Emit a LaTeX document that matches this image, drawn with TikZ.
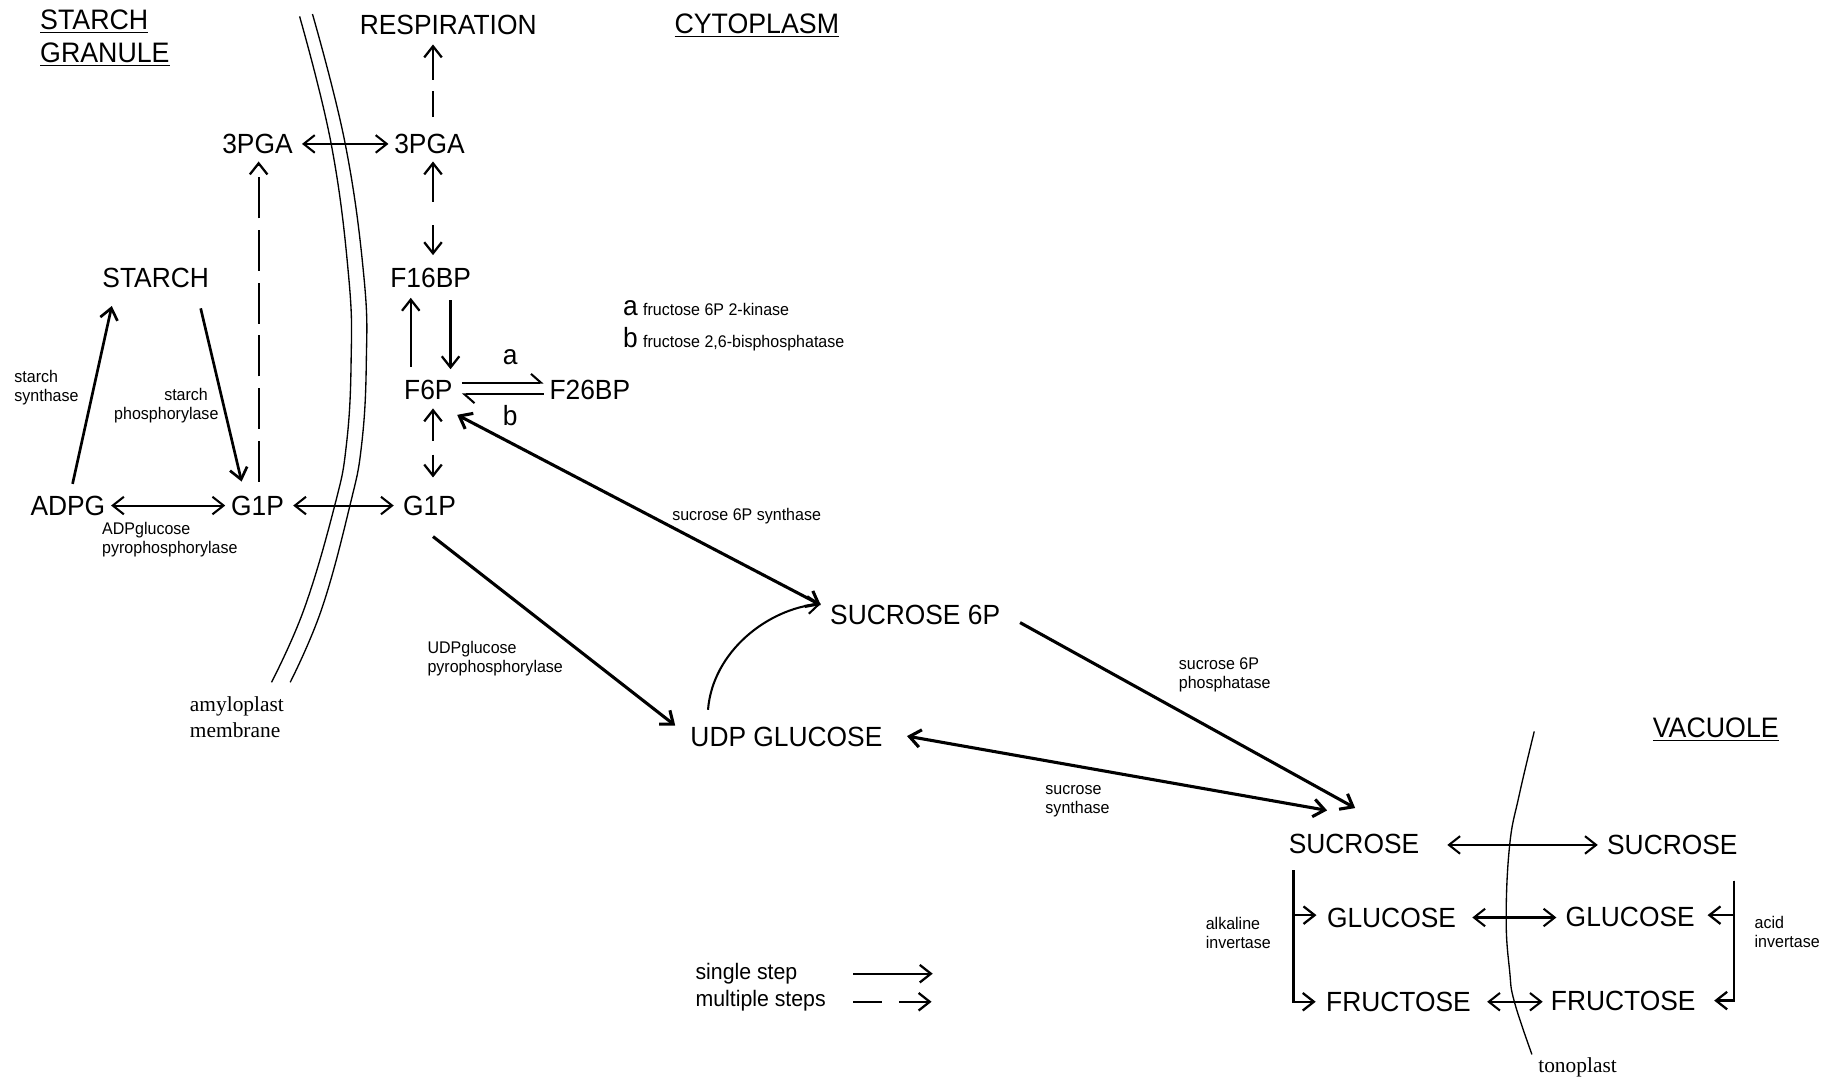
\documentclass[tikz,border=0pt]{standalone}
\usepackage{fontspec}
\setmainfont{Liberation Sans}[FakeStretch=0.95]
\newfontfamily\serifface{Liberation Serif}
\usetikzlibrary{arrows.meta,calc}
\tikzset{
  met/.style={inner sep=0pt, outer sep=0pt, font=\fontsize{13.5}{16}\selectfont, text height=9.67pt, text depth=0pt},
  letter/.style={inner sep=0pt, font=\fontsize{13.5}{16}\selectfont},
  enz/.style={inner sep=0pt, font=\fontsize{8.2}{9.2}\selectfont, align=left},
  hdr/.style={inner sep=0pt, font=\fontsize{13.7}{16}\selectfont, anchor=base west},
  leg/.style={inner sep=0pt, font=\fontsize{10.9}{13}\selectfont, anchor=base west},
  memtxt/.style={inner sep=0pt, font=\serifface\fontsize{10.4}{12.5}\selectfont, align=left},
  mem/.style={line width=0.65pt},
  >={Straight Barb[length=0.19cm,width=0.3cm]},
  rx/.style={->, line width=1.1pt},
  dx/.style={<->, line width=1pt},
  thick2/.style={line width=1.5pt},
  hp/.style={-{Straight Barb[harpoon,length=0.17cm,width=0.3cm]}, line width=1pt},
}
\begin{document}
\begin{tikzpicture}[x=0.02cm, y=-0.02cm]
\useasboundingbox (0,0) rectangle (1568,925);

% membranes
\draw[mem] plot[smooth, tension=0.7] coordinates {(256,14) (283,123) (298,237) (300,310) (296,380) (286,432) (260,520) (232,583)};
\draw[mem] plot[smooth, tension=0.7] coordinates {(267,12) (295,123) (311,237) (313,310) (309,380) (299,432) (275,520) (248,583)};
\draw[mem] plot[smooth, tension=0.7] coordinates {(1311,625) (1298,680) (1290,722) (1287,785) (1290,830) (1294,856) (1309,901)};

% headers
\node[hdr] (h1) at (34,25) {\underline{STARCH}};
\node[hdr] (h2) at (34,53) {\underline{GRANULE}};
\node[hdr] (h3) at (576,28.5) {\underline{CYTOPLASM}};
\node[hdr] (h4) at (1412,630) {\underline{VACUOLE}};

% metabolites
\node[met] (RESP) at (383,21) {RESPIRATION};
\node[met] (PGAl) at (220,123) {3PGA};
\node[met] (PGAr) at (367,123) {3PGA};
\node[met] (STARCH) at (133,237) {STARCH};
\node[met] (F16BP) at (368,237) {F16BP};
\node[met] (F6P) at (366,333) {F6P};
\node[met] (F26BP) at (504,333) {F26BP};
\node[met] (ADPG) at (58,432) {ADPG};
\node[met] (G1Pl) at (220,432) {G1P};
\node[met] (G1Pr) at (367,432) {G1P};
\node[met] (S6P) at (782,525) {SUCROSE 6P};
\node[met] (UDPG) at (672,629) {UDP GLUCOSE};
\node[met] (SUCl) at (1157,721) {SUCROSE};
\node[met] (SUCr) at (1429,722) {SUCROSE};
\node[met] (GLUl) at (1189,784) {GLUCOSE};
\node[met] (GLUr) at (1393,783) {GLUCOSE};
\node[met] (FRUl) at (1195,856) {FRUCTOSE};
\node[met] (FRUr) at (1387,855) {FRUCTOSE};

% small letters at harpoons
\node[letter] (la) at (436,305) {a};
\node[letter] (lb) at (436,355) {b};

% key for a and b
\node[inner sep=0pt, anchor=base west] (ka) at (532,270) {{\fontsize{13.5}{16}\selectfont a} {\fontsize{8.2}{9}\selectfont fructose 6P 2-kinase}};
\node[inner sep=0pt, anchor=base west] (kb) at (532,297) {{\fontsize{13.5}{16}\selectfont b} {\fontsize{8.2}{9}\selectfont fructose 2,6-bisphosphatase}};

% enzyme labels
\node[enz, anchor=west] (ess) at (12,331) {starch\\synthase};
\node[enz, anchor=east, align=right] (esp) at (187,347) {starch\hspace*{0.18cm}\\phosphorylase};
\node[enz, anchor=west] (eadp) at (87,461) {ADPglucose\\pyrophosphorylase};
\node[enz, anchor=west] (eudp) at (365,563) {UDPglucose\\pyrophosphorylase};
\node[enz] (es6s) at (638,441) {sucrose 6P synthase};
\node[enz, anchor=west] (es6p) at (1007,577) {sucrose 6P\\phosphatase};
\node[enz, anchor=west] (essy) at (893,685) {sucrose\\synthase};
\node[enz, anchor=west] (eai) at (1030,797) {alkaline\\invertase};
\node[enz, anchor=west] (eac) at (1499,796) {acid\\invertase};

% membrane labels
\node[memtxt, anchor=west] (amy) at (162,613) {amyloplast\\membrane};
\node[memtxt] (ton) at (1348,912) {tonoplast};

% connectors
\draw[rx, dash pattern=on 0.44cm off 0.2cm on 2cm] ($(PGAr.north)+(3,-14.5)$) -- ($(RESP.south)+(-13,8.5)$);
\draw[dx] ($(PGAl.east)+(8,0)$) -- ($(PGAr.west)+(-5,0)$);
\draw[rx, dash pattern=on 0.7cm off 0.2cm] ($(G1Pl.north)+(1,-12)$) -- ($(PGAl.south)+(1,6.5)$);
\draw[dx, line width=1.1pt, dash pattern=on 0.64cm off 0.4cm on 2cm] ($(PGAr.south)+(3,6.5)$) -- ($(F16BP.north)+(2,-10.5)$);
\draw[rx] ($(F6P.north)+(-15,-11)$) -- ($(F16BP.south)+(-17,9)$);
\draw[rx] ($(F16BP.south)+(17,11)$) -- ($(F6P.north)+(19,-9)$);
\draw[dx, line width=1.1pt, dash pattern=on 0.5cm off 0.24cm on 2cm] ($(F6P.south)+(4,7.5)$) -- ($(G1Pr.north)+(3,-15.5)$);
\draw[hp] ($(F6P.east)+(8,-6)$) -- ($(F26BP.west)+(-5,-6)$);
\draw[hp] ($(F26BP.west)+(-5,4)$) -- ($(F6P.east)+(8,4)$);

\draw[rx, line width=1.3pt] ($(ADPG.north)+(4,-10)$) -- ($(STARCH.south west)+(8,16)$);
\draw[rx, line width=1.3pt] ($(STARCH.south east)+(-7,18)$) -- ($(G1Pl.north west)+(9,-12)$);
\draw[dx] ($(ADPG.east)+(5,0)$) -- ($(G1Pl.west)+(-5,0)$);
\draw[dx] ($(G1Pl.east)+(8,0)$) -- ($(G1Pr.west)+(-8,0)$);

\draw[dx, thick2] ($(F6P.south east)+(4,13)$) -- ($(S6P.west)+(-8,-8)$);
\draw[rx, thick2] ($(G1Pr.south)+(3,18)$) -- ($(UDPG.west)+(-13,-9)$);
\draw[rx, line width=1pt] ($(UDPG.north west)+(15,-14)$) .. controls +(4,-50) and +(-45,4) .. ($(S6P.west)+(-8,-9)$);
\draw[rx, thick2] ($(S6P.east)+(17,7)$) -- ($(SUCl.north)+(1,-22)$);
\draw[dx, thick2] ($(UDPG.east)+(21,0)$) -- ($(SUCl.north)+(-23,-20)$);

\draw[dx] ($(SUCl.east)+(24,1)$) -- ($(SUCr.west)+(-8,0)$);
\draw[dx] ($(GLUl.east)+(14,0)$) -- ($(GLUr.west)+(-8,1)$);
\draw[dx] ($(FRUl.east)+(14,0)$) -- ($(FRUr.west)+(-7,1)$);

\draw[rx] ($(SUCl.south west)+(4,14)$) |- ($(GLUl.west)+(-9,-2)$);
\draw[rx] ($(SUCl.south west)+(4,14)$) |- ($(FRUl.west)+(-9,0)$);
\draw[rx] ($(SUCr.south east)+(-3,22)$) |- ($(GLUr.east)+(11,-1)$);
\draw[rx] ($(SUCr.south east)+(-3,22)$) |- ($(FRUr.east)+(16,0)$);

% legend
\node[leg] (ls) at (594,837) {single step};
\node[leg] (lm) at (594,860) {multiple steps};
\coordinate (ls1) at (729,832);
\coordinate (ls2) at (797,832);
\coordinate (lm1) at (729,856);
\coordinate (lm2) at (796,856);
\draw[rx] (ls1) -- (ls2);
\draw[rx, dash pattern=on 0.5cm off 0.28cm on 2cm] (lm1) -- (lm2);
\end{tikzpicture}
\end{document}
